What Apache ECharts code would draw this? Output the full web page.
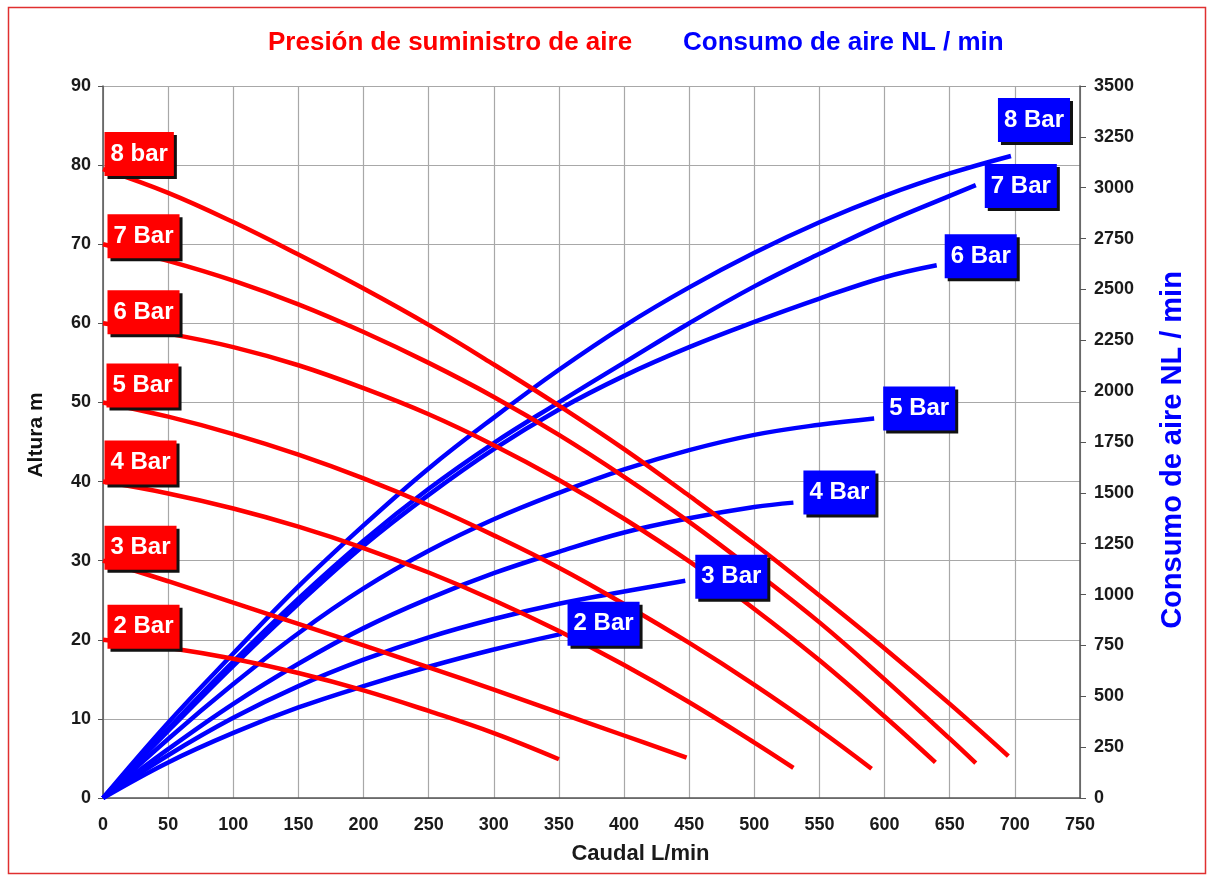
<!DOCTYPE html>
<html>
<head>
<meta charset="utf-8">
<script src="https://cdn.jsdelivr.net/npm/echarts@6/dist/echarts.min.js"></script>
<style>
html,body{margin:0;padding:0;background:#fff;}
#chart{width:1207px;height:875px;}
</style>
</head>
<body>
<div id="chart"></div>
<script>
// ---- Data ----
// Red curves: Altura m vs Caudal L/min (air supply pressure)
const pressureNames = ['8 bar', '7 Bar', '6 Bar', '5 Bar', '4 Bar', '3 Bar', '2 Bar'];
const p8x = [0, 50, 100, 150, 200, 250, 300, 350, 400, 450, 500, 550, 600, 650, 695];
const p8y = [79.5, 76.5, 72.8, 68.7, 64.4, 59.8, 54.8, 49.6, 44.1, 38.2, 32.1, 25.6, 18.9, 11.9, 5.3];
const p7x = [0, 50, 100, 150, 200, 250, 300, 350, 400, 450, 500, 550, 600, 650, 670];
const p7y = [70, 67.9, 65.4, 62.4, 58.9, 55.0, 50.7, 45.9, 40.6, 34.9, 28.7, 22.2, 15.0, 7.5, 4.4];
const p6x = [0, 50, 100, 150, 200, 250, 300, 350, 400, 450, 500, 550, 600, 639];
const p6y = [60, 58.7, 57.0, 54.7, 51.8, 48.5, 44.6, 40.2, 35.3, 29.9, 23.9, 17.4, 10.3, 4.5];
const p5x = [0, 50, 100, 150, 200, 250, 300, 350, 400, 450, 500, 550, 590];
const p5y = [50, 48.2, 46.0, 43.4, 40.4, 37.0, 33.2, 29.1, 24.5, 19.6, 14.3, 8.6, 3.7];
const p4x = [0, 50, 100, 150, 200, 250, 300, 350, 400, 450, 500, 530];
const p4y = [40, 38.5, 36.6, 34.3, 31.6, 28.5, 25.0, 21.1, 16.8, 12.1, 7.0, 3.8];
const p3x = [0, 50, 100, 150, 200, 250, 300, 350, 400, 448];
const p3y = [30, 27.4, 24.7, 22.0, 19.3, 16.5, 13.7, 10.8, 7.9, 5.1];
const p2x = [0, 50, 100, 150, 200, 250, 300, 350];
const p2y = [20, 19, 17.6, 15.8, 13.6, 11.0, 8.2, 4.9];

// Blue curves: Consumo de aire NL/min vs Caudal L/min
const consumoNames = ['8 Bar', '7 Bar', '6 Bar', '5 Bar', '4 Bar', '3 Bar', '2 Bar'];
const c8x = [0, 50, 100, 150, 200, 250, 300, 350, 400, 450, 500, 550, 600, 650, 697];
const c8y = [0, 370, 710, 1040, 1340, 1620, 1870, 2105, 2320, 2510, 2680, 2830, 2960, 3070, 3156];
const c7x = [0, 50, 100, 150, 200, 250, 300, 350, 400, 450, 500, 550, 600, 650, 670];
const c7y = [0, 340, 670, 980, 1265, 1520, 1745, 1945, 2140, 2334, 2515, 2675, 2826, 2960, 3013];
const c6x = [0, 50, 100, 150, 200, 250, 300, 350, 400, 450, 500, 550, 600, 640];
const c6y = [0, 330, 650, 955, 1240, 1490, 1715, 1910, 2075, 2216, 2340, 2455, 2560, 2619];
const c5x = [0, 50, 100, 150, 200, 250, 300, 350, 400, 450, 500, 550, 592];
const c5y = [0, 290, 560, 810, 1030, 1215, 1370, 1500, 1615, 1710, 1785, 1835, 1866];
const c4x = [0, 50, 100, 150, 200, 250, 300, 350, 400, 450, 500, 530];
const c4y = [0, 240, 463, 660, 835, 980, 1105, 1210, 1305, 1375, 1430, 1452];
const c3x = [0, 50, 100, 150, 200, 250, 300, 350, 400, 447];
const c3y = [0, 210, 394, 550, 680, 790, 880, 955, 1015, 1068];
const c2x = [0, 50, 100, 150, 200, 250, 300, 352];
const c2y = [0, 175, 320, 445, 550, 645, 730, 807];

// Axis ticks
const xMin = 0, xMax = 750, xStep = 50;
const yLeftMin = 0, yLeftMax = 90, yLeftStep = 10;
const yRightMin = 0, yRightMax = 3500, yRightStep = 250;

// ---- Styling (kept separate from data) ----
const RED = '#ff0000', BLUE = '#0000ff';
const FONT = 'Liberation Sans, Arial, Helvetica, sans-serif';
const redLabelOffsets = [[1.5, -15], [4.5, -8], [4.5, -11], [3.5, -17], [1.5, -19], [1.5, -13], [4.5, -13]];
const blueLabelOffsets = [[-13, -36], [9, 1], [8, -9], [9, -10], [10, -10], [10, -4], [6, -10]];

function pairs(xs, ys) { return xs.map((x, i) => [x, ys[i]]); }

const redSets = [[p8x, p8y], [p7x, p7y], [p6x, p6y], [p5x, p5y], [p4x, p4y], [p3x, p3y], [p2x, p2y]];
const blueSets = [[c8x, c8y], [c7x, c7y], [c6x, c6y], [c5x, c5y], [c4x, c4y], [c3x, c3y], [c2x, c2y]];

function boxLabel(color, text, offset) {
  return {
    show: true,
    position: [0.5 + offset[0], 0.5 + offset[1]],
    align: 'left',
    verticalAlign: 'middle',
    formatter: text,
    color: '#ffffff',
    opacity: 1,
    fontFamily: FONT,
    fontSize: 24,
    fontWeight: 'bold',
    lineHeight: 28,
    backgroundColor: color,
    padding: [8, 6, 8, 6],
    shadowColor: '#111111',
    shadowOffsetX: 3,
    shadowOffsetY: 3,
    shadowBlur: 0,
    textShadowColor: 'rgba(0,0,0,0)',
    textShadowBlur: 0,
    textShadowOffsetX: 0,
    textShadowOffsetY: 0,
    textBorderWidth: 0
  };
}

const series = [];
blueSets.forEach((s, i) => {
  series.push({
    type: 'line', name: 'c' + consumoNames[i], yAxisIndex: 1,
    data: pairs(s[0], s[1]), smooth: 0.4, showSymbol: false, symbol: 'none',
    lineStyle: { color: BLUE, width: 4.5 }, z: 2, silent: true
  });
});
redSets.forEach((s, i) => {
  series.push({
    type: 'line', name: 'p' + pressureNames[i], yAxisIndex: 0,
    data: pairs(s[0], s[1]), smooth: 0.4, showSymbol: false, symbol: 'none',
    lineStyle: { color: RED, width: 4.5 }, z: 3, silent: true
  });
});
// label boxes anchored on curve start (red) / end (blue)
series.push({
  type: 'scatter', yAxisIndex: 0, symbolSize: 1, itemStyle: { color: 'rgba(0,0,0,0)' }, z: 10, silent: true,
  data: redSets.map((s, i) => ({ value: [s[0][0], s[1][0]], label: boxLabel(RED, pressureNames[i], redLabelOffsets[i]) }))
});
series.push({
  type: 'scatter', yAxisIndex: 1, symbolSize: 1, itemStyle: { color: 'rgba(0,0,0,0)' }, z: 10, silent: true,
  data: blueSets.map((s, i) => {
    const n = s[0].length - 1;
    return { value: [s[0][n], s[1][n]], label: boxLabel(BLUE, consumoNames[i], blueLabelOffsets[i]) };
  })
});

const tickLabel = { color: '#1a1a1a', fontFamily: FONT, fontSize: 18, fontWeight: 'bold' };

const option = {
  backgroundColor: '#fff',
  animation: false,
  title: [
    { text: 'Presión de suministro de aire', left: 268, top: 30, padding: 0,
      textStyle: { color: RED, fontFamily: FONT, fontSize: 26, fontWeight: 'bold' } },
    { text: 'Consumo de aire NL / min', left: 683, top: 30, padding: 0,
      textStyle: { color: BLUE, fontFamily: FONT, fontSize: 26, fontWeight: 'bold' } }
  ],
  grid: { left: 103, right: 127, top: 86, bottom: 77, containLabel: false },
  xAxis: {
    type: 'value', min: xMin, max: xMax, interval: xStep,
    name: 'Caudal L/min', nameLocation: 'middle', nameGap: 45,
    nameTextStyle: { color: '#1a1a1a', fontFamily: FONT, fontSize: 22, fontWeight: 'bold', padding: [0, 0, 0, 98] },
    axisLine: { lineStyle: { color: '#555', width: 1.5 } },
    axisTick: { show: false },
    axisLabel: Object.assign({ margin: 18 }, tickLabel),
    splitLine: { show: true, lineStyle: { color: '#a8a8a8', width: 1.2 } }
  },
  yAxis: [
    {
      type: 'value', min: yLeftMin, max: yLeftMax, interval: yLeftStep, position: 'left',
      name: 'Altura m', nameLocation: 'middle', nameGap: 56,
      nameTextStyle: { color: '#111', fontFamily: FONT, fontSize: 21, fontWeight: 'bold', padding: [0, 0, 0, 14] },
      axisLine: { show: true, lineStyle: { color: '#555', width: 1.5 } },
      axisTick: { show: true, length: 5, lineStyle: { color: '#555' } },
      axisLabel: Object.assign({ margin: 12 }, tickLabel),
      splitLine: { show: true, lineStyle: { color: '#a8a8a8', width: 1.2 } }
    },
    {
      type: 'value', min: yRightMin, max: yRightMax, interval: yRightStep, position: 'right',
      name: 'Consumo de aire NL / min', nameLocation: 'middle', nameGap: 78,
      nameTextStyle: { color: BLUE, fontFamily: FONT, fontSize: 29, fontWeight: 'bold', padding: [0, 16, 0, 0] },
      axisLine: { show: true, lineStyle: { color: '#555', width: 1.5 } },
      axisTick: { show: true, length: 6, lineStyle: { color: '#555' } },
      axisLabel: Object.assign({ margin: 14, formatter: v => String(v) }, tickLabel),
      splitLine: { show: false }
    }
  ],
  graphic: [{
    type: 'rect', left: 6, top: 5, silent: true,
    shape: { width: 1197, height: 866 },
    style: { fill: 'none', stroke: '#e03030', lineWidth: 1.5 }
  }],
  series: series
};

const chart = echarts.init(document.getElementById('chart'), null, { renderer: 'canvas' });
chart.setOption(option);
</script>
</body>
</html>
